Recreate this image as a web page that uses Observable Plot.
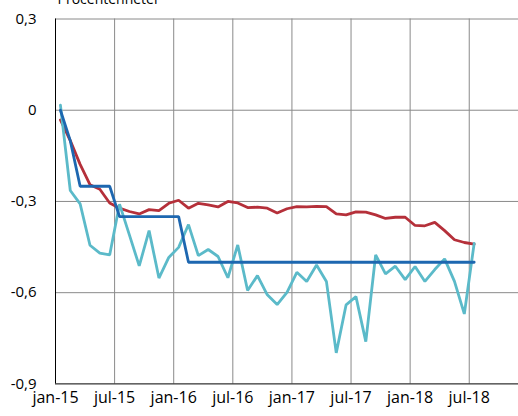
<!DOCTYPE html>
<html>
<head>
<meta charset="utf-8">
<script src="https://cdn.jsdelivr.net/npm/d3@7"></script>
<script src="https://cdn.jsdelivr.net/npm/@observablehq/plot@0.6"></script>
<style>
  html, body { margin: 0; padding: 0; background: #fff; }
  #chart svg { display: block; }
</style>
</head>
<body>
<div id="chart"></div>
<script>
// ---- data ----
const unitLabel = "Procentenheter";

const xTickMonths = [0, 6, 12, 18, 24, 30, 36, 42];
const xTickLabels = ["jan-15", "jul-15", "jan-16", "jul-16", "jan-17", "jul-17", "jan-18", "jul-18"];

const yTicks = [0.3, 0, -0.3, -0.6, -0.9];
const yTickLabels = ["0,3", "0", "-0,3", "-0,6", "-0,9"];

// monthly values jan-15 .. jul-18 (43 months)
const redSeries = [
  -0.032, -0.10, -0.178, -0.245, -0.26, -0.305, -0.322, -0.333, -0.341, -0.327,
  -0.33, -0.306, -0.296, -0.322, -0.306, -0.311, -0.318, -0.30, -0.305, -0.32,
  -0.319, -0.322, -0.338, -0.324, -0.317, -0.318, -0.316, -0.317, -0.341, -0.344,
  -0.334, -0.335, -0.344, -0.356, -0.352, -0.352, -0.379, -0.38, -0.369, -0.396,
  -0.426, -0.435, -0.44
];
const blueSeries = [
  0, -0.10, -0.25, -0.25, -0.25, -0.25, -0.35, -0.35, -0.35, -0.35,
  -0.35, -0.35, -0.35, -0.50, -0.50, -0.50, -0.50, -0.50, -0.50, -0.50,
  -0.50, -0.50, -0.50, -0.50, -0.50, -0.50, -0.50, -0.50, -0.50, -0.50,
  -0.50, -0.50, -0.50, -0.50, -0.50, -0.50, -0.50, -0.50, -0.50, -0.50,
  -0.50, -0.50, -0.50
];
const cyanSeries = [
  0.017, -0.264, -0.308, -0.444, -0.47, -0.476, -0.309, -0.41, -0.512, -0.396,
  -0.552, -0.484, -0.451, -0.376, -0.478, -0.458, -0.481, -0.551, -0.443, -0.593,
  -0.544, -0.607, -0.639, -0.599, -0.533, -0.563, -0.509, -0.563, -0.798, -0.64,
  -0.613, -0.761, -0.476, -0.538, -0.513, -0.557, -0.514, -0.563, -0.524, -0.489,
  -0.563, -0.67, -0.438
];

const colors = { red: "#b5303a", blue: "#1d67b0", cyan: "#5bbac9" };

// points sit in the middle of each month
const toRows = (arr) => arr.map((v, i) => ({ m: i + 0.5, v }));
const red = toRows(redSeries);
const blue = toRows(blueSeries);
const cyan = toRows(cyanSeries);

const font = "'Open Sans', 'DejaVu Sans', sans-serif";

const chart = Plot.plot({
  width: 518,
  height: 416,
  marginLeft: 55,
  marginRight: 0,
  marginTop: 18.5,
  marginBottom: 32.6,
  style: { fontFamily: font, fontSize: "15px", color: "#000", background: "#fff", overflow: "visible" },
  x: { type: "linear", domain: [0, 47], axis: null, label: null },
  y: { domain: [-0.9, 0.3], axis: null, label: null },
  marks: [
    Plot.ruleX(xTickMonths.slice(1), { stroke: "#8a8a8a", strokeWidth: 1 }),
    Plot.ruleY(yTicks.slice(0, 4), { stroke: "#8a8a8a", strokeWidth: 1 }),
    Plot.ruleY([-0.9], { stroke: "#000", strokeWidth: 1 }),
    Plot.ruleX([0], { stroke: "#000", strokeWidth: 1 }),
    Plot.line(red, { x: "m", y: "v", stroke: colors.red, strokeWidth: 2.8, strokeLinejoin: "miter" }),
    Plot.line(cyan, { x: "m", y: "v", stroke: colors.cyan, strokeWidth: 2.8, strokeLinejoin: "miter" }),
    Plot.line(blue, { x: "m", y: "v", stroke: colors.blue, strokeWidth: 2.8, strokeLinejoin: "miter" }),
    Plot.axisY({
      ticks: yTicks,
      tickSize: 0,
      tickPadding: 19,
      label: null,
      tickFormat: (d) => yTickLabels[yTicks.indexOf(d)],
      fontSize: 15
    }),
    Plot.axisX({
      ticks: xTickMonths,
      tickSize: 0,
      tickPadding: 8,
      label: null,
      tickFormat: (d) => xTickLabels[xTickMonths.indexOf(d)],
      fontSize: 16
    }),
    Plot.text([unitLabel], {
      frameAnchor: "top-left",
      text: (d) => d,
      textAnchor: "start",
      lineAnchor: "bottom",
      dx: 2,
      dy: -15,
      fontSize: 14
    })
  ]
});

document.getElementById("chart").appendChild(chart);
</script>
</body>
</html>
